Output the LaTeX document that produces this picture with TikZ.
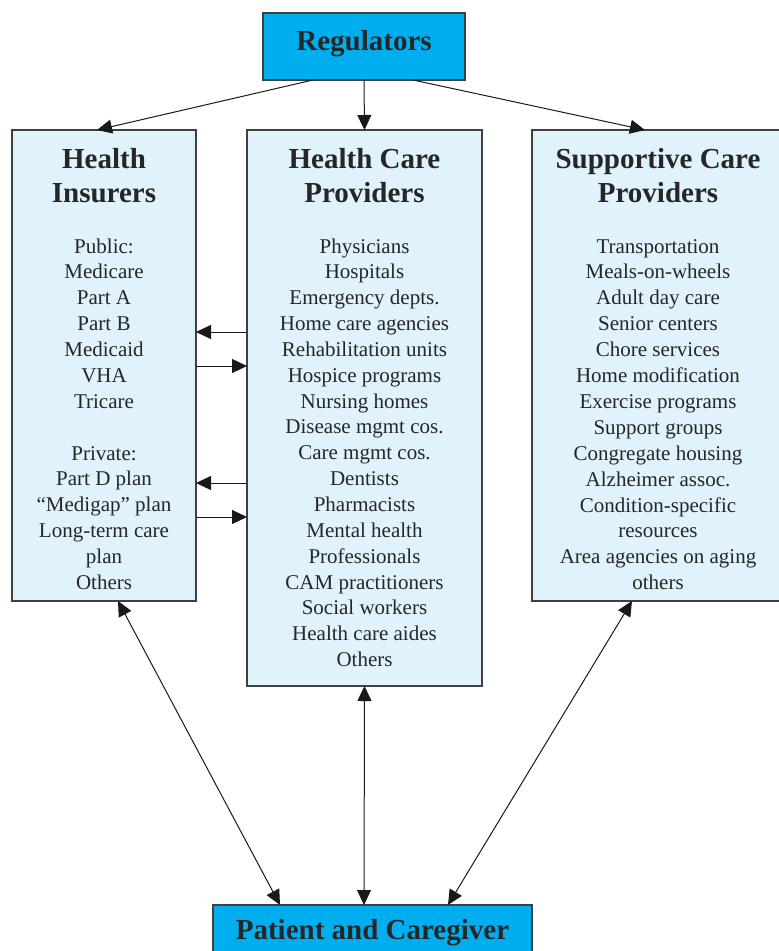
\documentclass[tikz,border=0pt]{standalone}
\usepackage{fontspec}
\setmainfont{Liberation Serif}
\usetikzlibrary{arrows.meta}
\definecolor{boxcyan}{HTML}{00AEEF}
\definecolor{boxlight}{HTML}{E0F2FC}
\definecolor{boxline}{HTML}{404040}
\begin{document}
\begin{tikzpicture}[x=1pt,y=-1pt,
  box/.style={draw=boxline,line width=1.3pt,inner sep=0pt,outer sep=0pt},
  titletext/.style={font=\fontsize{29}{34}\selectfont\bfseries,text=black!85,align=center,inner sep=0pt},
  bodytext/.style={font=\fontsize{21}{26}\selectfont,text=black!85,inner sep=0pt,text height=14pt,text depth=4pt},
  arr/.style={draw=black!90,line width=1pt,-{Triangle[length=15pt,width=14pt]}},
  darr/.style={draw=black!90,line width=1pt,{Triangle[length=15pt,width=14pt]}-{Triangle[length=15pt,width=14pt]}}]
\useasboundingbox (0,0) rectangle (779,951);
% boxes
\node[box,fill=boxcyan,minimum width=202pt,minimum height=67pt] (reg) at (364,46.5) {};
\node[titletext] (regt) at (364,44) {Regulators};
\node[box,fill=boxlight,minimum width=184pt,minimum height=471pt] (hi) at (104,365.5) {};
\node[box,fill=boxlight,minimum width=235pt,minimum height=556pt] (hcp) at (364.5,408) {};
\node[box,fill=boxlight,minimum width=252pt,minimum height=471pt] (sup) at (658,365.5) {};
\node[box,fill=boxcyan,minimum width=319pt,minimum height=54pt] (pat) at (372.5,932) {};
\node[titletext] (patt) at (372.5,933) {Patient and Caregiver};
% titles
\node[titletext] (hit) at (104,176) {Health\\Insurers};
\node[titletext] (hcpt) at (364.5,176) {Health Care\\Providers};
\node[titletext] (supt) at (658,176) {Supportive Care\\Providers};
% body texts
\foreach \t [count=\i from 0] in {Public:,Medicare,Part A,Part B,Medicaid,VHA,Tricare}
  \node[bodytext] (hia\i) at (104,248+\i*25.9) {\t};
\foreach \t [count=\i from 0] in {Private:,Part D plan,“Medigap” plan,Long-term care,plan,Others}
  \node[bodytext] (hib\i) at (104,455+\i*25.8) {\t};
\foreach \t [count=\i from 0] in {Physicians,Hospitals,Emergency depts.,Home care agencies,Rehabilitation units,Hospice programs,Nursing homes,Disease mgmt cos.,Care mgmt cos.,Dentists,Pharmacists,Mental health,Professionals,CAM practitioners,Social workers,Health care aides,Others}
  \node[bodytext] (hcpl\i) at (364.5,248+\i*25.85) {\t};
\foreach \t [count=\i from 0] in {Transportation,Meals-on-wheels,Adult day care,Senior centers,Chore services,Home modification,Exercise programs,Support groups,Congregate housing,Alzheimer assoc.,Condition-specific,resources,Area agencies on aging,others}
  \node[bodytext] (supl\i) at (658,248+\i*25.9) {\t};
% connectors from regulators
\draw[arr] ([xshift=50pt]reg.south west) -- ([xshift=-7pt]hi.north);
\draw[arr] (reg.south) -- (hcp.north);
\draw[arr] ([xshift=-52pt]reg.south east) -- ([xshift=-13pt]sup.north);
% horizontal arrows
\draw[arr] (hcp.west |- {(0,332)}) -- (hi.east |- {(0,332)});
\draw[arr] (hi.east |- {(0,366)}) -- (hcp.west |- {(0,366)});
\draw[arr] (hcp.west |- {(0,483)}) -- (hi.east |- {(0,483)});
\draw[arr] (hi.east |- {(0,517)}) -- (hcp.west |- {(0,517)});
% to patient
\draw[darr] ([xshift=14pt]hi.south) -- ([xshift=-92.5pt]pat.north);
\draw[darr] (hcp.south) -- ([xshift=-8.5pt]pat.north);
\draw[darr] ([xshift=-26pt]sup.south) -- ([xshift=75.5pt]pat.north);
\end{tikzpicture}
\end{document}
